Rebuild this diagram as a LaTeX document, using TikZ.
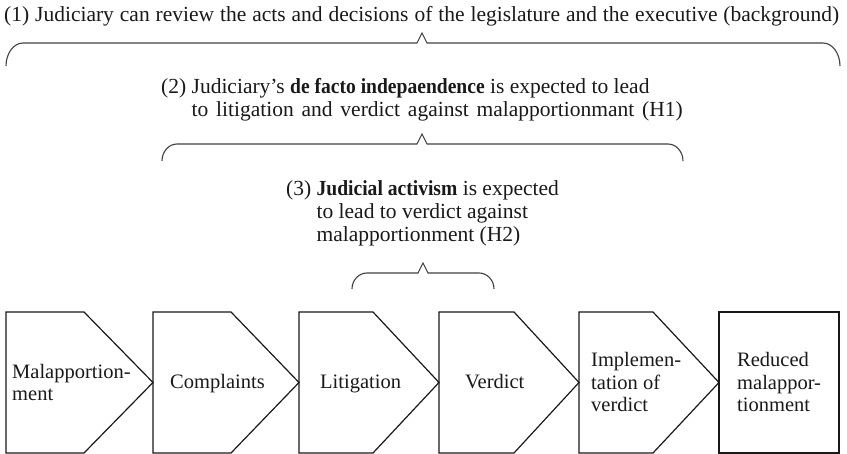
\documentclass[tikz,border=0pt]{standalone}
\usepackage{fontspec}
\setmainfont{Liberation Serif}
\newfontfamily\nbfam{Liberation Serif}[FakeStretch=0.91]
\newcommand{\nbf}[1]{{\nbfam\bfseries #1}}
\newcommand{\capbrace}[7]{% left, right, y, tipx, tipy, rx, ry
  \draw[brace] ({#1},{#3+#7}) .. controls ({#1},{#3+0.45*#7}) and ({#1+0.45*#6},{#3}) .. ({#1+#6},{#3})
    -- ({#4-5},{#3}) -- ({#4},{#5}) -- ({#4+5},{#3})
    -- ({#2-#6},{#3}) .. controls ({#2-0.45*#6},{#3}) and ({#2},{#3+0.45*#7}) .. ({#2},{#3+#7});}
\newcommand{\wline}[2]{\makebox[#1pt][s]{#2}}
\begin{document}
\begin{tikzpicture}[x=1pt,y=-1pt,
  lbl/.style={anchor=base west, inner sep=0pt, align=left,
    font=\fontsize{21.5}{23}\selectfont, text=black!90},
  blbl/.style={lbl, font=\fontsize{20.5}{22.5}\selectfont},
  stage/.style={draw=black!90, line width=1.2pt, line join=miter},
  brace/.style={draw=black!75, line width=1.1pt}]
\useasboundingbox (0,0) rectangle (847,454);

% texts (anchor = baseline of last line)
\node[lbl] (t1) at (4,22) {\wline{835}{(1) Judiciary can review the acts and decisions of the legislature and the executive (background)}};
\node[lbl] (t2) at (161,117) {(2) Judiciary’s \nbf{de facto indepaendence} is expected to lead\\\hphantom{(2) }\wline{491}{to litigation and verdict against malapportionmant (H1)}};
\node[lbl] (t3) at (286,242) {(3) \nbf{Judicial activism} is expected\\\hphantom{(3) }to lead to verdict against\\\hphantom{(3) }malapportionment (H2)};

% braces
\capbrace{6}{840}{43}{422}{33}{17}{23}
\capbrace{162}{683}{144}{422}{134}{15}{17}
\capbrace{352}{494}{273}{423}{263}{15}{16}

% stages
\draw[stage] (6,312) -- (84,312) -- (153,382.5) -- (84,453) -- (6,453) -- cycle;
\draw[stage] (153,312) -- (231,312) -- (299,382.5) -- (231,453) -- (153,453) -- cycle;
\draw[stage] (299,312) -- (373,312) -- (439,382.5) -- (373,453) -- (299,453) -- cycle;
\draw[stage] (439,312) -- (514,312) -- (579,382.5) -- (514,453) -- (439,453) -- cycle;
\draw[stage] (579,312) -- (653,312) -- (719,382.5) -- (653,453) -- (579,453) -- cycle;
\draw[stage] (719,312) -- (839,312) -- (839,453) -- (719,453) -- cycle;

\node[blbl] (l1) at (12,401) {Malapportion-\\ment};
\node[blbl] (l2) at (170,389) {Complaints};
\node[blbl] (l3) at (320,389) {Litigation};
\node[blbl] (l4) at (465,389) {Verdict};
\node[blbl] (l5) at (591,412) {Implemen-\\tation of\\verdict};
\node[blbl] (l6) at (737,412) {Reduced\\malappor-\\tionment};
\end{tikzpicture}
\end{document}
